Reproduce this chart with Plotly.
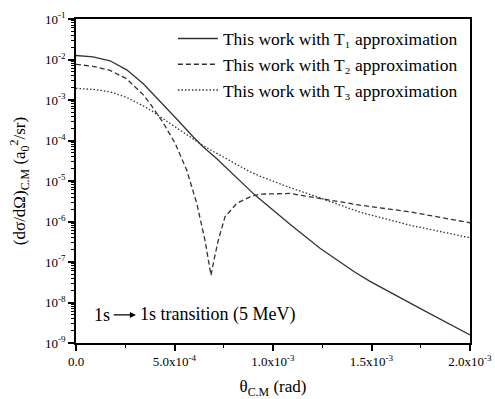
import plotly.graph_objects as go

# theta_CM (rad) and cross sections (a0^2/sr)
t1_x = [0, 0.0863e-3, 0.1726e-3, 0.2574e-3, 0.3416e-3, 0.4264e-3, 0.5112e-3, 0.5954e-3, 0.6447e-3,
        0.7107e-3, 0.7817e-3, 0.9086e-3, 1.0863e-3, 1.2386e-3, 1.4162e-3, 1.4924e-3, 1.7462e-3, 2.0e-3]
t1_y = [0.01256, 0.01167, 0.00929, 0.00556, 0.002506, 9.5e-4, 3.40e-4, 1.222e-4, 7.03e-5,
        3.69e-5, 1.758e-5, 4.48e-6, 8.57e-7, 2.18e-7, 5.56e-8, 3.33e-8, 7.14e-9, 1.58e-9]

t2_x = [0, 0.0863e-3, 0.1726e-3, 0.2574e-3, 0.3416e-3, 0.3807e-3, 0.4401e-3, 0.5025e-3, 0.5619e-3,
        0.6127e-3, 0.6548e-3, 0.6701e-3, 0.6853e-3, 0.7030e-3, 0.7223e-3, 0.7563e-3, 0.8157e-3,
        0.8832e-3, 0.934e-3, 1.0863e-3, 1.1878e-3, 1.4416e-3, 1.6954e-3, 1.9645e-3, 2.0e-3]
t2_y = [7.60e-3, 6.79e-3, 5.41e-3, 3.33e-3, 1.337e-3, 7.56e-4, 2.87e-4, 8.67e-5, 1.862e-5,
        2.84e-6, 3.44e-7, 1.29e-7, 4.69e-8, 1.29e-7, 3.44e-7, 1.30e-6, 2.79e-6,
        4.06e-6, 4.74e-6, 4.93e-6, 4.11e-6, 2.53e-6, 1.73e-6, 1.02e-6, 9.3e-7]

t3_x = [0, 0.0863e-3, 0.1726e-3, 0.2574e-3, 0.3416e-3, 0.3807e-3, 0.5112e-3, 0.6447e-3, 0.7107e-3,
        0.8832e-3, 0.934e-3, 1.0863e-3, 1.2132e-3, 1.4416e-3, 1.6954e-3, 1.9645e-3, 2.0e-3]
t3_y = [1.936e-3, 1.828e-3, 1.585e-3, 1.159e-3, 7.14e-4, 5.53e-4, 2.04e-4, 7.52e-5, 4.91e-5,
        1.69e-5, 1.32e-5, 6.87e-6, 4.23e-6, 1.70e-6, 8.09e-7, 4.33e-7, 3.97e-7]

names = ["This work with T\u2081 approximation",
         "This work with T\u2082 approximation",
         "This work with T\u2083 approximation"]

x_tickvals = [0, 5e-4, 1e-3, 1.5e-3, 2e-3]
x_ticktext = ["0.0", "5.0x10<sup>-4</sup>", "1.0x10<sup>-3</sup>", "1.5x10<sup>-3</sup>", "2.0x10<sup>-3</sup>"]
y_tickvals = [10.0 ** e for e in range(-9, 0)]
y_ticktext = ["10<sup>%d</sup>" % e for e in range(-9, 0)]

FONT = "Liberation Serif"
LC = "#333333"

fig = go.Figure()
fig.add_trace(go.Scatter(x=t1_x, y=t1_y, mode="lines", name=names[0],
                         line=dict(color=LC, width=1.3)))
fig.add_trace(go.Scatter(x=t2_x, y=t2_y, mode="lines", name=names[1],
                         line=dict(color=LC, width=1.3, dash="5px,3px")))
fig.add_trace(go.Scatter(x=t3_x, y=t3_y, mode="lines", name=names[2],
                         line=dict(color=LC, width=1.3, dash="1.5px,2px")))

fig.update_layout(
    width=495, height=399,
    margin=dict(l=76, r=25, t=19, b=56, autoexpand=False),
    paper_bgcolor="white", plot_bgcolor="white",
    font=dict(family=FONT, color="black", size=17),
    showlegend=True,
    legend=dict(x=0.246, y=0.995, xanchor="left", yanchor="top", bgcolor="rgba(0,0,0,0)",
                font=dict(size=17.5, family=FONT), itemwidth=40, tracegroupgap=0),
    xaxis=dict(range=[0, 2e-3], tickvals=x_tickvals, ticktext=x_ticktext, automargin=False,
               showline=True, linecolor="black", linewidth=1.6, mirror=True,
               ticks="outside", ticklen=6, tickwidth=1.5, tickcolor="black",
               minor=dict(ticks="outside", ticklen=3, tickwidth=1.2, tickcolor="black", dtick=2.5e-4),
               showgrid=False, zeroline=False,
               tickfont=dict(size=13, family=FONT),
               title=dict(text="θ<sub>C.M</sub> (rad)", font=dict(size=17, family=FONT), standoff=12)),
    yaxis=dict(type="log", range=[-9, -1], tickvals=y_tickvals, ticktext=y_ticktext, automargin=False,
               showline=True, linecolor="black", linewidth=1.6, mirror=True,
               ticks="outside", ticklen=6, tickwidth=1.5, tickcolor="black",
               minor=dict(ticks="outside", ticklen=3, tickwidth=1, tickcolor="black", dtick="D1"),
               showgrid=False, zeroline=False,
               tickfont=dict(size=13, family=FONT),
               title=dict(text="(dσ/dΩ)<sub>C.M</sub> (a<sub>0</sub><sup>2</sup>/sr)",
                          font=dict(size=17, family=FONT), standoff=15)),
    annotations=[
        dict(xref="paper", yref="paper", x=0.152, y=0.0865, text="1s", showarrow=True,
             ax=-33.6, ay=0, arrowhead=2, arrowsize=1, arrowwidth=1.2, arrowcolor="black",
             standoff=0, startstandoff=2, font=dict(size=18, family=FONT)),
        dict(xref="paper", yref="paper", x=0.157, y=0.0865, text="1s transition (5 MeV)",
             xanchor="left", yanchor="middle", showarrow=False, font=dict(size=18, family=FONT)),
    ],
)

fig.write_html("out.html")
